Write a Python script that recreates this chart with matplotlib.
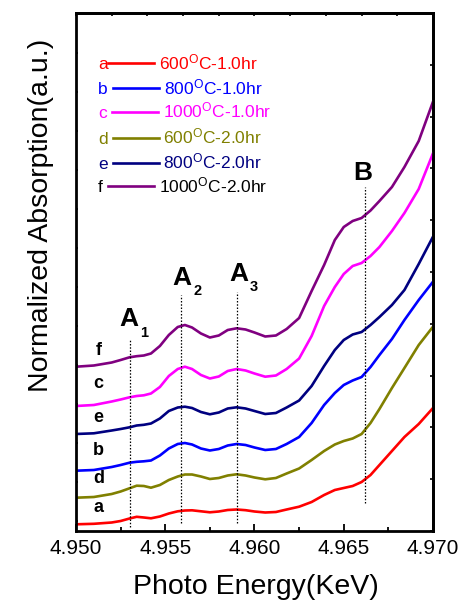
import numpy as np
import matplotlib
matplotlib.use("Agg")
import matplotlib.pyplot as plt
from matplotlib.ticker import MultipleLocator, FixedLocator, FuncFormatter

plt.rcParams['font.family'] = ['Liberation Sans', 'DejaVu Sans']
plt.rcParams['mathtext.fontset'] = 'custom'
plt.rcParams['mathtext.rm'] = 'Liberation Sans'
plt.rcParams['mathtext.it'] = 'Liberation Sans:italic'
plt.rcParams['mathtext.bf'] = 'Liberation Sans:bold'

# ---------------- data ----------------
energy = [4.9500, 4.9510, 4.9520, 4.9525, 4.9530, 4.9534, 4.9538, 4.9542, 4.9547,
          4.9552, 4.9557, 4.9561, 4.9565, 4.9570, 4.9575, 4.9580, 4.9585, 4.9590,
          4.9595, 4.9600, 4.9606, 4.9612, 4.9618, 4.9625, 4.9632, 4.9639, 4.9645,
          4.9650, 4.9655, 4.9660, 4.9665, 4.9670, 4.9677, 4.9684, 4.9692, 4.9700]

abs_a = [0.067, 0.072, 0.085, 0.100, 0.125, 0.142, 0.135, 0.127, 0.145, 0.175,
         0.197, 0.205, 0.207, 0.197, 0.187, 0.195, 0.210, 0.215, 0.208, 0.195,
         0.185, 0.190, 0.215, 0.243, 0.290, 0.360, 0.410, 0.430, 0.450, 0.490,
         0.560, 0.660, 0.800, 0.940, 1.070, 1.230]
abs_b = [0.603, 0.610, 0.640, 0.660, 0.683, 0.692, 0.697, 0.705, 0.755, 0.825,
         0.870, 0.880, 0.865, 0.825, 0.805, 0.820, 0.855, 0.870, 0.860, 0.835,
         0.810, 0.820, 0.870, 0.940, 1.080, 1.260, 1.380, 1.460, 1.505, 1.540,
         1.640, 1.760, 1.920, 2.110, 2.310, 2.493]
abs_c = [1.250, 1.260, 1.295, 1.315, 1.337, 1.350, 1.357, 1.375, 1.440, 1.550,
         1.620, 1.643, 1.620, 1.560, 1.525, 1.545, 1.600, 1.620, 1.605, 1.575,
         1.543, 1.555, 1.620, 1.725, 1.950, 2.250, 2.440, 2.570, 2.650, 2.680,
         2.750, 2.840, 3.000, 3.180, 3.420, 3.777]
abs_d = [0.333, 0.340, 0.370, 0.395, 0.427, 0.453, 0.450, 0.433, 0.460, 0.510,
         0.545, 0.565, 0.565, 0.545, 0.520, 0.530, 0.555, 0.567, 0.555, 0.535,
         0.517, 0.530, 0.575, 0.625, 0.710, 0.800, 0.865, 0.900, 0.925, 0.970,
         1.080, 1.220, 1.430, 1.630, 1.860, 2.043]
abs_e = [0.970, 0.977, 1.005, 1.020, 1.037, 1.055, 1.062, 1.075, 1.125, 1.200,
         1.235, 1.243, 1.230, 1.190, 1.167, 1.185, 1.225, 1.237, 1.225, 1.200,
         1.170, 1.180, 1.235, 1.305, 1.450, 1.650, 1.810, 1.910, 1.965, 1.990,
         2.060, 2.140, 2.260, 2.410, 2.670, 2.943]
abs_f = [1.643, 1.655, 1.685, 1.710, 1.737, 1.748, 1.755, 1.775, 1.850, 1.960,
         2.040, 2.060, 2.035, 1.975, 1.935, 1.955, 2.010, 2.027, 2.015, 1.985,
         1.945, 1.955, 2.020, 2.130, 2.400, 2.660, 2.910, 3.040, 3.100, 3.130,
         3.205, 3.300, 3.440, 3.640, 3.900, 4.293]

series_keys = ['a', 'b', 'c', 'd', 'e', 'f']
series_vals = [abs_a, abs_b, abs_c, abs_d, abs_e, abs_f]
series_labels = ['600$^{\\mathrm{O}}$C-1.0hr', '800$^{\\mathrm{O}}$C-1.0hr',
                 '1000$^{\\mathrm{O}}$C-1.0hr', '600$^{\\mathrm{O}}$C-2.0hr',
                 '800$^{\\mathrm{O}}$C-2.0hr', '1000$^{\\mathrm{O}}$C-2.0hr']
line_colors = ['#FF0000', '#0000FF', '#FF00FF', '#808000', '#000080', '#800080']
text_colors = ['#FF0000', '#0000FF', '#FF00FF', '#808000', '#000080', '#000000']

feature_energy = [4.9530, 4.9559, 4.9590, 4.9662]
feature_low = [0.040, 0.083, 0.083, 0.283]
feature_high = [1.910, 2.360, 2.393, 3.443]

x_ticks = [4.950, 4.955, 4.960, 4.965, 4.970]

# ---------------- figure ----------------
W, H = 465, 602
fig = plt.figure(figsize=(W / 100, H / 100), dpi=100)
ax = fig.add_axes([76 / W, 1 - 531 / H, (433 - 76) / W, (531 - 13) / H])

def fpos(px, py):
    return px / W, 1 - py / H

for vals, col in zip(series_vals, line_colors):
    ax.plot(energy, vals, color=col, lw=1.9, solid_joinstyle='round')

ax.vlines(feature_energy, feature_low, feature_high, colors='black',
          linestyles=(0, (1.2, 1.4)), linewidth=0.9)

ax.set_xlim(4.950, 4.970)
ax.set_ylim(0, 5.18)

ax.xaxis.set_major_locator(FixedLocator(x_ticks))
ax.xaxis.set_minor_locator(MultipleLocator(0.0025))
ax.xaxis.set_major_formatter(FuncFormatter(lambda v, p: f"{v:.3f}"))
ax.tick_params(axis='x', which='major', direction='in', length=5, width=1.3,
               labelsize=15, pad=6, top=False)
ax.tick_params(axis='x', which='minor', direction='in', length=3.2, width=1.3, top=False)

ax.yaxis.set_major_locator(FixedLocator(list(np.arange(0.103, 5.18, 0.39))))
ax.tick_params(axis='y', which='major', direction='in', length=1.6, width=1.2,
               labelleft=False, right=False)

for s in ax.spines.values():
    s.set_linewidth(2.0)

secx = ax.secondary_xaxis('top')
secx.xaxis.set_major_locator(FixedLocator(list(np.arange(4.950, 4.9701, 0.002))))
secx.tick_params(direction='in', length=2, width=1.2, labeltop=False, labelbottom=False)
secx.spines['top'].set_linewidth(2.0)

secy = ax.secondary_yaxis('right')
secy.yaxis.set_major_locator(FixedLocator(list(np.arange(0, 5.19, 0.518))))
secy.tick_params(direction='in', length=2, width=1.2, labelright=False, labelleft=False)
secy.spines['right'].set_linewidth(2.0)

# axis titles
fig.text(*fpos(256, 594.5), 'Photo Energy(KeV)', fontsize=20.5, ha='center', va='baseline')
fig.text(*fpos(48.5, 215), 'Normalized Absorption(a.u.)', fontsize=20.5, rotation=90,
         rotation_mode='anchor', ha='center', va='baseline')

# feature labels
for (px, py, txt, fs) in [(129.2, 326, 'A', 19), (144.5, 337.3, '1', 10.5),
                          (182.2, 285, 'A', 19), (197.2, 295, '2', 10.5),
                          (239.2, 280.7, 'A', 19), (254.2, 291, '3', 10.5),
                          (362.5, 180, 'B', 19)]:
    fig.text(*fpos(px, py), txt, fontsize=fs, fontweight='bold', ha='center', va='baseline')

# curve letters
for key, py in zip(['f', 'c', 'e', 'b', 'd', 'a'], [355, 388.3, 421.7, 455, 483.3, 512.3]):
    fig.text(*fpos(98.3, py), key, fontsize=13, fontweight='bold', ha='center', va='baseline')

# legend (hand-placed)
leg_rows = [63.3, 88.3, 111.7, 137.7, 162.7, 186.0]
leg_letter_x = [102.8, 103, 103, 103, 103, 100]
leg_line = [(108.3, 154.3), (112.7, 159.3), (111.7, 158.3), (112.7, 159.3), (112.7, 159.3),
            (107.7, 154.3)]
leg_text_x = [159.3, 164, 163.3, 163.3, 163.3, 159.3]
for i in range(6):
    y = leg_rows[i]
    fig.text(*fpos(leg_letter_x[i], y + 6), series_keys[i], fontsize=12.5,
             color=text_colors[i], ha='center', va='baseline')
    x0, y0 = fpos(leg_line[i][0], y)
    x1, _ = fpos(leg_line[i][1], y)
    fig.add_artist(plt.Line2D([x0, x1], [y0, y0], color=line_colors[i], lw=1.9,
                              transform=fig.transFigure))
    fig.text(*fpos(leg_text_x[i], y + 6), series_labels[i], fontsize=12.5,
             color=text_colors[i], ha='left', va='baseline')

fig.savefig('out.png', dpi=100)
